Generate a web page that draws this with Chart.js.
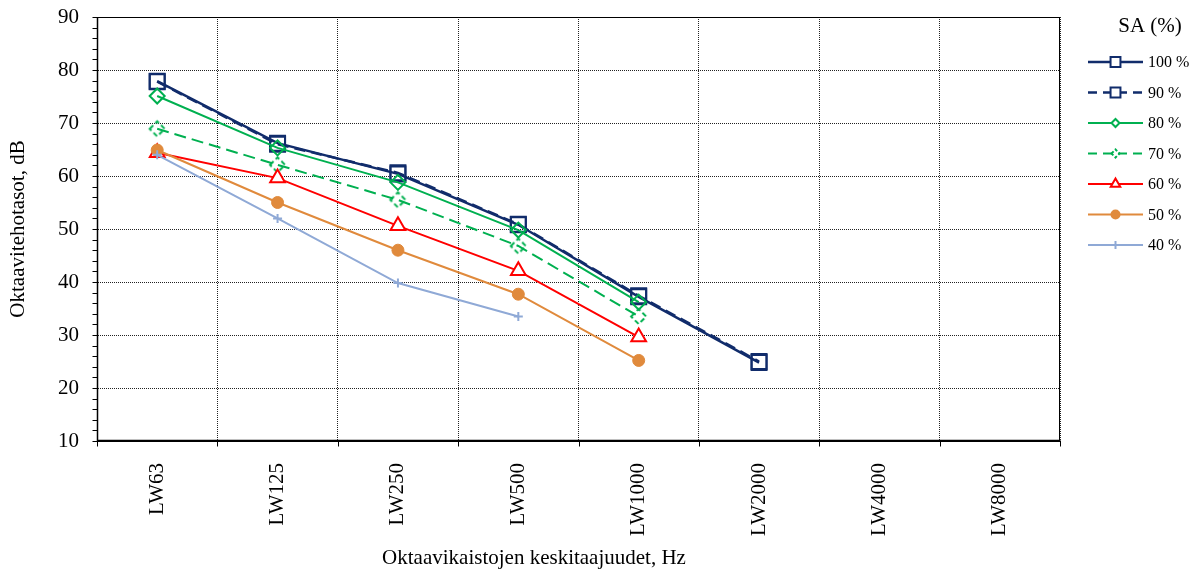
<!DOCTYPE html>
<html>
<head>
<meta charset="utf-8">
<script src="https://cdn.jsdelivr.net/npm/chart.js@4.4.1/dist/chart.umd.min.js"></script>
<style>
  html, body { margin: 0; padding: 0; background: #fff; }
  #wrap { width: 1192px; height: 574px; position: relative; }
</style>
</head>
<body>
<div id="wrap"><canvas id="c" width="1192" height="574"></canvas></div>
<script>
const categories = ['LW63', 'LW125', 'LW250', 'LW500', 'LW1000', 'LW2000', 'LW4000', 'LW8000'];
const seriesNames = ['100 %', '90 %', '80 %', '70 %', '60 %', '50 %', '40 %'];
const sa100 = [77.9, 66.2, 60.4, 50.8, 37.2, 24.8, null, null];
const sa90  = [77.8, 66.0, 60.6, 50.9, 37.4, 25.0, null, null];
const sa80  = [75.1, 65.3, 58.8, 49.8, 36.2, null, null, null];
const sa70  = [68.9, 62.1, 55.5, 46.8, 33.5, null, null, null];
const sa60  = [64.4, 59.6, 50.6, 42.1, 29.6, null, null, null];
const sa50  = [64.9, 55.0, 46.0, 37.7, 25.2, null, null, null];
const sa40  = [64.0, 52.0, 39.8, 33.5, null, null, null, null];
const yTicks = [10, 20, 30, 40, 50, 60, 70, 80, 90];

const FONT = '"Liberation Serif", "Times New Roman", serif';
const NAVY = '#112C6B', GREEN = '#00B050', RED = '#FF0000', ORANGE = '#E08A3C', LBLUE = '#8FA9D6';

function dashedDiamond(r, color, lw) {
  const s = Math.ceil(2 * r + lw * 2 + 2);
  const cv = document.createElement('canvas');
  cv.width = s; cv.height = s;
  const c = cv.getContext('2d');
  const m = s / 2;
  c.strokeStyle = color; c.lineWidth = lw;
  c.setLineDash([5, 3]);
  c.beginPath();
  c.moveTo(m - r, m); c.lineTo(m, m - r); c.lineTo(m + r, m); c.lineTo(m, m + r); c.closePath();
  c.stroke();
  return cv;
}

const ds = [
  { label: seriesNames[0], data: sa100, borderColor: NAVY, borderWidth: 2.5, pointStyle: 'rect', pointRadius: 10.6, pointBorderWidth: 2, pointBackgroundColor: 'rgba(0,0,0,0)', lg: { style: 'rect', r: 7 } },
  { label: seriesNames[1], data: sa90, borderColor: NAVY, borderWidth: 2.5, borderDash: [11, 6], pointStyle: 'rect', pointRadius: 10.6, pointBorderWidth: 2, pointBackgroundColor: 'rgba(0,0,0,0)', lg: { style: 'rect', r: 7 } },
  { label: seriesNames[2], data: sa80, borderColor: GREEN, borderWidth: 2, pointStyle: 'rectRot', pointRadius: 7.5, pointBorderWidth: 2, pointBackgroundColor: 'rgba(0,0,0,0)', lg: { style: 'rectRot', r: 4 } },
  { label: seriesNames[3], data: sa70, borderColor: GREEN, borderWidth: 2, borderDash: [12, 6], pointStyle: dashedDiamond(7.5, GREEN, 2), pointRadius: 7.5, lg: { style: 'dashdiamond', r: 4 } },
  { label: seriesNames[4], data: sa60, borderColor: RED, borderWidth: 2, pointStyle: 'triangle', pointRadius: 8.5, pointBorderWidth: 2, pointBackgroundColor: '#fff', lg: { style: 'triangle', r: 5.5 } },
  { label: seriesNames[5], data: sa50, borderColor: ORANGE, borderWidth: 2, pointStyle: 'circle', pointRadius: 6, pointBorderWidth: 1, pointBackgroundColor: ORANGE, lg: { style: 'circle', r: 5 } },
  { label: seriesNames[6], data: sa40, borderColor: LBLUE, borderWidth: 2, pointStyle: 'cross', pointRadius: 4.5, pointBorderWidth: 2, pointBackgroundColor: LBLUE, lg: { style: 'cross', r: 4 } }
].map((d, i, arr) => Object.assign({ order: arr.length - 1 - i, pointBorderColor: d.borderColor, backgroundColor: d.borderColor, fill: false, tension: 0, spanGaps: false, pointHoverRadius: d.pointRadius }, d));

function legendMarker(ctx, d, x, y) {
  const r = d.lg.r, st = d.lg.style;
  ctx.save();
  ctx.strokeStyle = d.borderColor; ctx.lineWidth = 2; ctx.setLineDash([]);
  ctx.fillStyle = st === 'circle' ? d.borderColor : '#fff';
  ctx.beginPath();
  if (st === 'rect') { ctx.rect(x - r * 0.707, y - r * 0.707, r * 1.414, r * 1.414); ctx.fill(); ctx.stroke(); }
  else if (st === 'rectRot') { ctx.moveTo(x - r, y); ctx.lineTo(x, y - r); ctx.lineTo(x + r, y); ctx.lineTo(x, y + r); ctx.closePath(); ctx.fill(); ctx.stroke(); }
  else if (st === 'dashdiamond') { ctx.setLineDash([3, 2]); ctx.moveTo(x - r, y); ctx.lineTo(x, y - r); ctx.lineTo(x + r, y); ctx.lineTo(x, y + r); ctx.closePath(); ctx.fill(); ctx.stroke(); }
  else if (st === 'triangle') { ctx.moveTo(x, y - r); ctx.lineTo(x + r * 0.866, y + r * 0.5); ctx.lineTo(x - r * 0.866, y + r * 0.5); ctx.closePath(); ctx.fill(); ctx.stroke(); }
  else if (st === 'circle') { ctx.arc(x, y, r, 0, Math.PI * 2); ctx.fill(); }
  else if (st === 'cross') { ctx.moveTo(x, y - r); ctx.lineTo(x, y + r); ctx.moveTo(x - r, y); ctx.lineTo(x + r, y); ctx.stroke(); }
  ctx.restore();
}

const decor = {
  id: 'decor',
  afterDraw(chart) {
    const { ctx, chartArea } = chart;
    const { left, right, top, bottom } = chartArea;
    const ys = chart.scales.y;
    ctx.save();
    ctx.strokeStyle = '#000'; ctx.lineWidth = 1; ctx.setLineDash([]);
    const L = Math.round(left) + 0.5, R = Math.round(right) - 0.5, T = Math.round(top) + 0.5, B = Math.round(bottom) - 0.5;
    ctx.strokeRect(L, T, R - L, B - T);
    ctx.lineWidth = 1.5;
    ctx.beginPath(); ctx.moveTo(L, T); ctx.lineTo(L, B); ctx.lineTo(R, B); ctx.stroke();
    ctx.lineWidth = 1;
    // y minor/major tick marks
    ctx.beginPath();
    for (let v = ys.min; v <= ys.max + 1e-6; v += 2) {
      const py = Math.round(ys.getPixelForValue(v)) + 0.5;
      ctx.moveTo(L - 5, py); ctx.lineTo(L, py);
    }
    // x tick marks at category boundaries
    const n = categories.length;
    for (let i = 0; i <= n; i++) {
      const px = Math.round(left + i * (right - left) / n) + 0.5;
      ctx.moveTo(px, B); ctx.lineTo(px, B + 6);
    }
    ctx.stroke();
    // axis titles
    ctx.fillStyle = '#000';
    ctx.font = '21px ' + FONT;
    ctx.textAlign = 'center'; ctx.textBaseline = 'middle';
    ctx.fillText('Oktaavikaistojen keskitaajuudet, Hz', 534, 558);
    ctx.save();
    ctx.translate(18, (top + bottom) / 2);
    ctx.rotate(-Math.PI / 2);
    ctx.fillText('Oktaavitehotasot, dB', 0, 0);
    ctx.restore();
    // legend
    ctx.fillText('SA (%)', 1150, 26);
    ctx.font = '16px ' + FONT;
    ctx.textAlign = 'left';
    chart.data.datasets.forEach((d, i) => {
      const ly = 62 + i * 30.5;
      ctx.save();
      ctx.strokeStyle = d.borderColor; ctx.lineWidth = d.borderWidth;
      ctx.setLineDash(d.borderDash ? [9, 6] : []);
      ctx.beginPath(); ctx.moveTo(1088, ly); ctx.lineTo(1143, ly); ctx.stroke();
      ctx.restore();
      legendMarker(ctx, d, 1115.5, ly);
      ctx.fillStyle = '#000';
      ctx.fillText(d.label, 1148, ly + 1);
    });
    ctx.restore();
  }
};

function zeroPad(s) { s.paddingTop = 0; s.paddingBottom = 0; s.paddingLeft = 0; s.paddingRight = 0; }

new Chart(document.getElementById('c'), {
  type: 'line',
  data: { labels: categories, datasets: ds },
  options: {
    responsive: false,
    animation: false,
    devicePixelRatio: 1,
    layout: { padding: { top: 17, right: 132, left: 0, bottom: 0 } },
    plugins: { legend: { display: false }, tooltip: { enabled: false }, title: { display: false } },
    scales: {
      x: {
        type: 'category',
        offset: true,
        grid: { display: true, offset: true, color: '#222', lineWidth: 1, drawTicks: false },
        border: { display: true, color: '#000', width: 1, dash: [1, 1] },
        ticks: { autoSkip: false, minRotation: 90, maxRotation: 90, padding: 22, color: '#000', font: { family: FONT, size: 21 } },
        afterFit(s) { s.height = 133; zeroPad(s); }
      },
      y: {
        min: 10, max: 90,
        afterBuildTicks(s) { s.ticks = yTicks.map(v => ({ value: v })); },
        grid: { display: true, color: '#222', lineWidth: 1, drawTicks: false },
        border: { display: true, color: '#000', width: 1, dash: [1, 1] },
        ticks: { padding: 18, color: '#000', font: { family: FONT, size: 21 } },
        afterFit(s) { s.width = 97; zeroPad(s); }
      }
    }
  },
  plugins: [decor]
});
</script>
</body>
</html>
